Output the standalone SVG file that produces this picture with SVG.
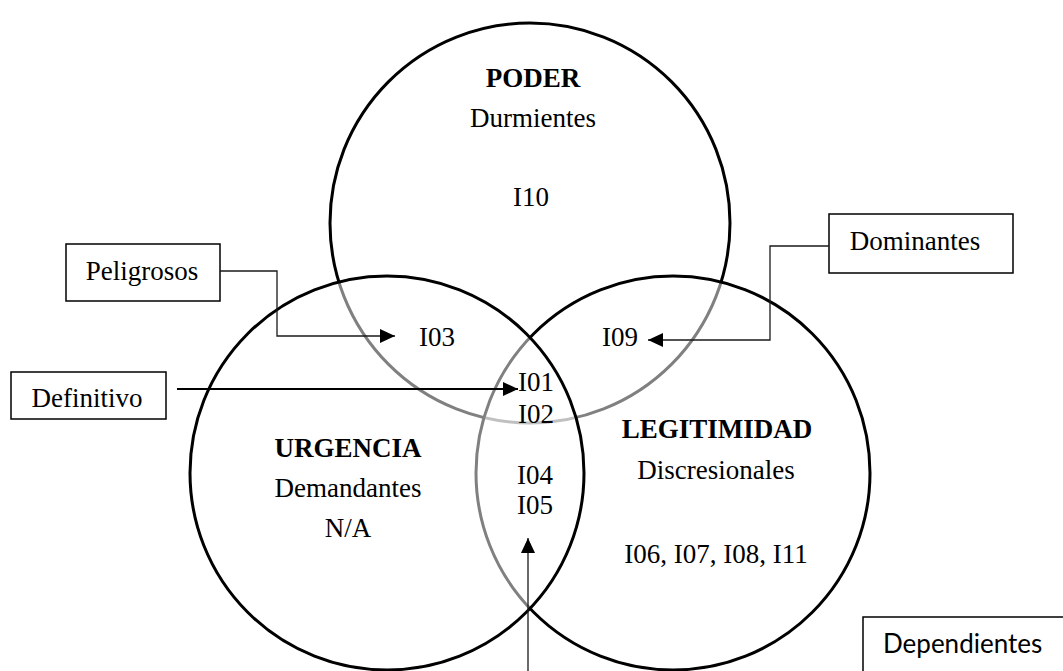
<svg xmlns="http://www.w3.org/2000/svg" width="1063" height="671" viewBox="0 0 1063 671">
  <style>
    .ring { fill: #ffffff; fill-opacity: 0.5; stroke: #000000; stroke-width: 3; }
    .t { font-family: "Liberation Serif", "Times New Roman", serif; font-size: 27px; fill: #000000; text-anchor: middle; }
    .b { font-weight: bold; }
    .box { fill: #ffffff; stroke: #000000; stroke-width: 1.5; }
    .thin { fill: none; stroke: #1a1a1a; stroke-width: 1.3; }
    .thick { fill: none; stroke: #000000; stroke-width: 2.2; }
    .sans { font-family: Lato, "Open Sans", "Liberation Sans", sans-serif; font-size: 26px; fill: #000000; }
  </style>
  <defs>
    <marker id="head" markerUnits="userSpaceOnUse" markerWidth="15" markerHeight="14" refX="15" refY="7" orient="auto">
      <path d="M0,0 L15,7 L0,14 z" fill="#000000"/>
    </marker>
  </defs>

  <rect width="1063" height="671" fill="#ffffff"/>

  <!-- Power set (top) -->
  <g id="poder">
    <circle class="ring" cx="530" cy="223" r="200"/>
    <text class="t b" x="533" y="87">PODER</text>
    <text class="t" x="533" y="127">Durmientes</text>
    <text class="t" x="531" y="206">I10</text>
  </g>

  <!-- Legitimacy set (right) -->
  <g id="legitimidad">
    <circle class="ring" cx="673" cy="473" r="197"/>
    <text class="t b" x="717" y="438">LEGITIMIDAD</text>
    <text class="t" x="716" y="479">Discresionales</text>
    <text class="t" x="716" y="563">I06, I07, I08, I11</text>
  </g>

  <!-- Urgency set (left) -->
  <g id="urgencia">
    <circle class="ring" cx="387" cy="473" r="197"/>
    <text class="t b" x="348" y="457">URGENCIA</text>
    <text class="t" x="348" y="497">Demandantes</text>
    <text class="t" x="348" y="537">N/A</text>
  </g>

  <!-- Overlap labels -->
  <g id="poder-urgencia">
    <text class="t" x="437" y="346">I03</text>
  </g>
  <g id="poder-legitimidad">
    <text class="t" x="620" y="346">I09</text>
  </g>
  <g id="centro">
    <text class="t" x="536" y="391">I01</text>
    <text class="t" x="536" y="423">I02</text>
  </g>
  <g id="urgencia-legitimidad">
    <text class="t" x="535" y="484">I04</text>
    <text class="t" x="535" y="514">I05</text>
  </g>

  <!-- Callout boxes -->
  <g id="peligrosos">
    <rect class="box" x="66" y="244" width="154" height="57"/>
    <text class="t" x="142" y="280">Peligrosos</text>
  </g>
  <g id="definitivo">
    <rect class="box" x="11" y="372" width="155" height="47"/>
    <text class="t" x="87" y="407">Definitivo</text>
  </g>
  <g id="dominantes">
    <rect class="box" x="829" y="214" width="184" height="59"/>
    <text class="t" x="915" y="250">Dominantes</text>
  </g>
  <g id="dependientes">
    <rect class="box" x="863" y="617" width="220" height="70"/>
    <text class="sans" x="883" y="653">Dependientes</text>
  </g>

  <!-- Connectors -->
  <g id="connectors">
    <polyline class="thin" points="220,271 277,271 277,336 395,336" marker-end="url(#head)"/>
    <line class="thick" x1="177" y1="389" x2="518" y2="389" marker-end="url(#head)"/>
    <polyline class="thin" points="829,246 770,246 770,340 648,340" marker-end="url(#head)"/>
    <line class="thin" x1="528" y1="671" x2="528" y2="538" marker-end="url(#head)"/>
  </g>
</svg>
